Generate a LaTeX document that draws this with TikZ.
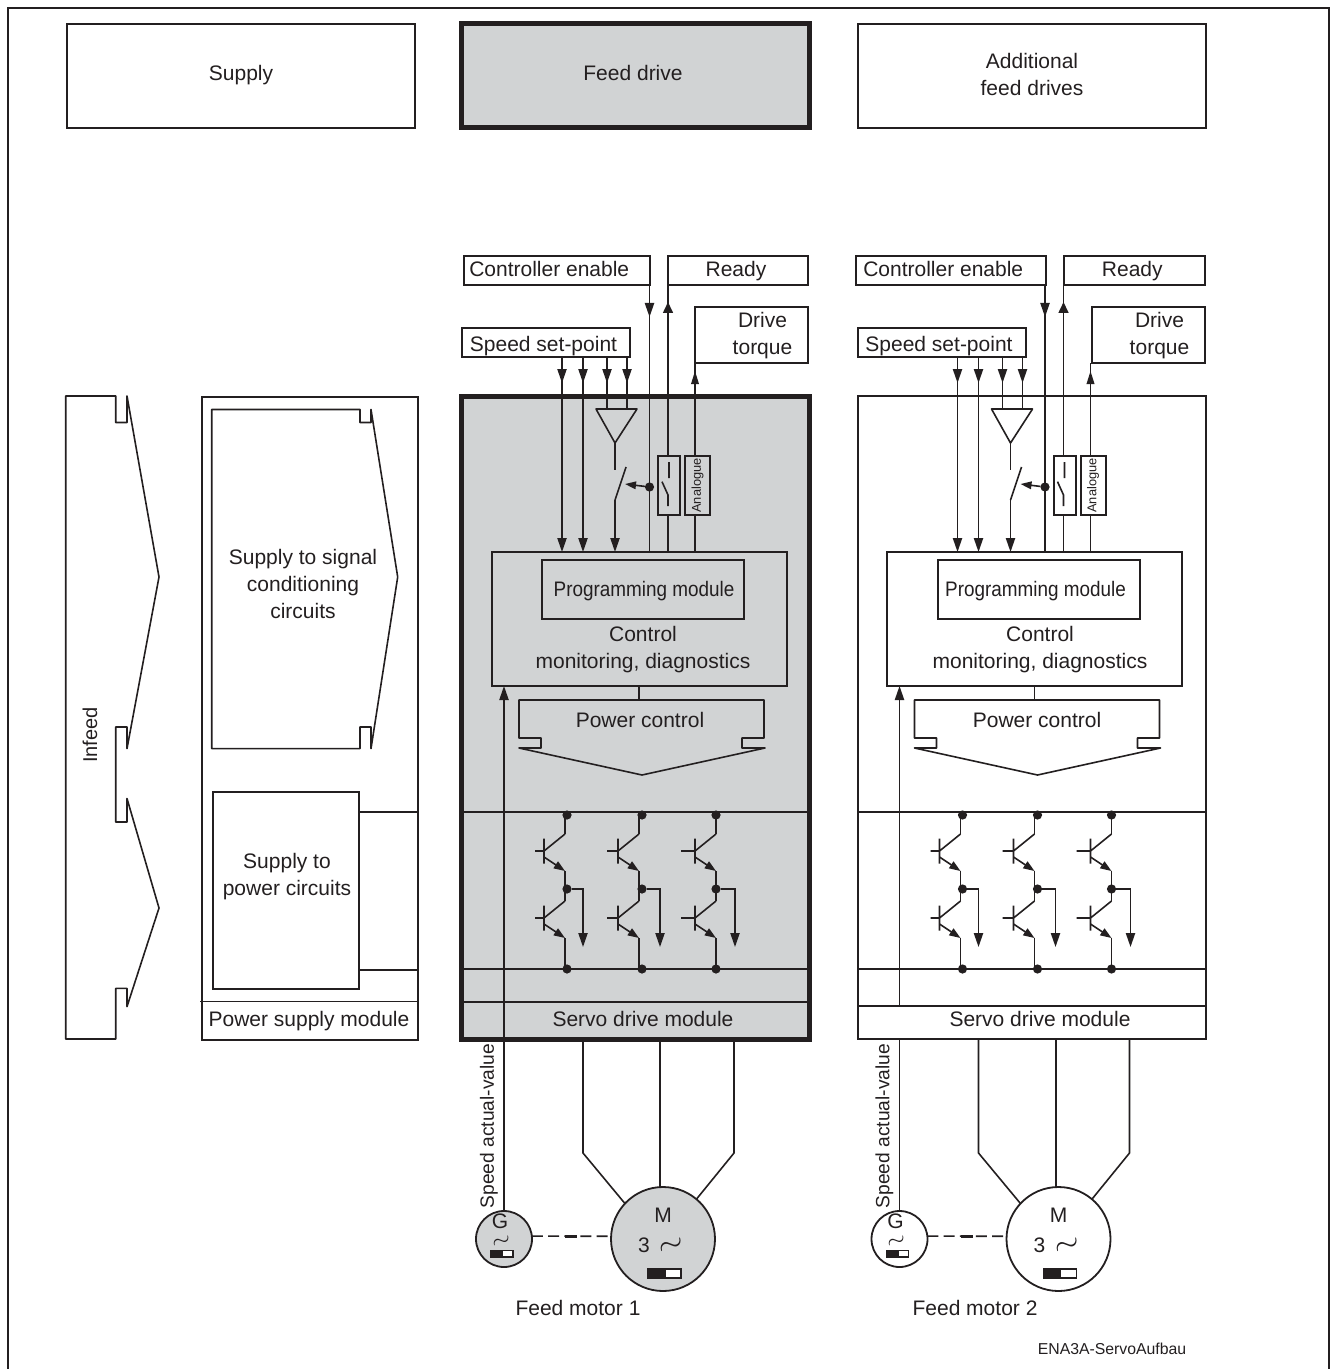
\documentclass[tikz,border=0pt]{standalone}
\usepackage{fontspec}
\setmainfont{Liberation Sans}
\usetikzlibrary{arrows.meta,fit,calc}
\definecolor{ink}{HTML}{231F20}
\definecolor{drivegray}{HTML}{D1D3D4}
\tikzset{
  box/.style={draw,line width=1pt,inner sep=0pt,outer sep=0pt},
  wire/.style={line width=.8pt},
  thin wire/.style={line width=.6pt},
  dot/.style={circle,fill=ink,minimum size=4.6pt,inner sep=0pt,outer sep=0pt},
  machine/.style={circle,draw,line width=.9pt,inner sep=0pt,outer sep=0pt},
  smalltip/.style={>={Triangle[length=5.6pt,width=4pt]}},
  waveform/.style={inner sep=0pt,rotate=18},
  pics/igbt/.style={code={
    \draw[wire] (0,-17) -- (-21,0) (-21,-12.5) -- (-21,12.5) (#1,0) -- (-21,0);
    \draw[wire,->,smalltip] (-21,6) -- (0,20);
  }}
}
\begin{document}
\begin{tikzpicture}[x=.5pt,y=-.5pt,color=ink,>={Triangle[length=7pt,width=4.6pt]},
    every node/.append style={font=\fontsize{10.5}{13.5}\selectfont}]
  \useasboundingbox (0,0) rectangle (1334,1369);

  \draw[line width=1.1pt] (8,1369) -- (8,8) -- (1329,8) -- (1329,1369);

  \node[box,fit={(67,24) (415,128)},label={[yshift=.5pt]center:Supply}] (supply) {};
  \node[box,line width=2.5pt,fill=drivegray,fit={(461,24) (809,128)},label={[xshift=-1pt,yshift=1.5pt]center:Feed drive}] (feed) {};
  \node[box,fit={(858,24) (1206,128)},label={[yshift=.75pt,align=center]center:Additional\\feed drives}] (more) {};

  % infeed
  \draw[wire,line join=round] (65.7,396) -- (115.7,396) -- (115.7,422.5) -- (127,422.5) -- (127,396)
    -- (159,577) -- (127,748.6) -- (127,727) -- (115.7,727) -- (115.7,822) -- (127,822)
    -- (127,798.5) -- (159,908) -- (127,1006.6) -- (127,988.4) -- (115.7,988.4)
    -- (115.7,1039) -- (65.7,1039) -- cycle;
  \node[rotate=90,font=\fontsize{10}{12}\selectfont] (infeed) at (90,735) {Infeed};

  % power supply module
  \node[box,fit={(202,397) (417.7,1040)}] (psm) {};
  \coordinate (psl) at (200,1001.4);
  \draw[wire] (psl) -- (psl -| psm.east);
  \node (psmtxt) at (309,1021) {Power supply module};
  \draw[wire,line join=round] (211.7,409.5) -- (360,409.5) -- (360,422.5) -- (371,422.5) -- (371,409.5)
    -- (397.7,577) -- (371,748.6) -- (371,727) -- (360,727) -- (360,748.6) -- (211.7,748.6) -- cycle;
  \node[align=center] (sig) at (303,584) {Supply to signal\\conditioning\\circuits};
  \node[box,fit={(212.7,792) (359,989)}] (pow) {};
  \node[align=center] (powtxt) at (287,877) {Supply to\\power circuits};
  \draw[wire] (pow.east |- 0,812) -- (psm.east |- 0,812);
  \draw[wire] (pow.east |- 0,970) -- (psm.east |- 0,970);

  % the two drives
  \foreach \m/\dx/\mx/\ce/\pg/\bg/\fw/\by/\bandbg in {1/0/0/463.5/0.5pt/drivegray/2.5pt/1002/none,2/395.5/397/856/-1.5pt/white/1pt/1006/white} {
    \node[box,line width=\fw,fill=\bg,fit={(\mx+461,396) (\mx+809,1039)}] (md\m) {};
    \node[box,fit={(\dx+491.7,552) (\dx+786.7,686)}] (ctl\m) {};
    \node[box,fit={(\dx+542,560) (\dx+744,619)},label={[xshift=\pg,yshift=-1pt]center:\scalebox{.9}[1]{Programming module}}] (prg\m) {};
    \node[align=center] (ctltxt\m) at (\mx+643,650) {Control\\monitoring, diagnostics};

    \node[box,fit={(\ce,256) (\dx+650,285)},label={[xshift=-3.75pt,yshift=1pt]center:Controller enable}] (ce\m) {};
    \node[box,fit={(\dx+668,256) (\mx+808,285)},label={[xshift=-1pt,yshift=-.5pt]center:Ready}] (rd\m) {};
    \node[box,fit={(\mx+695,307) (\mx+808,363)},label={[xshift=5.5pt,yshift=-.5pt,align=center]center:Drive\\torque}] (dt\m) {};
    \node[box,fit={(\dx+462,328) (\dx+630,357)},label={[xshift=-1.25pt,yshift=-2pt]center:Speed set-point}] (sp\m) {};

    % set-point lines
    \foreach \s/\sx in {a/562,b/583,c/607,d/627} {
      \coordinate (s\m\s) at (\dx+\sx,357);
      \draw[wire,->] (s\m\s) -- (s\m\s |- 0,383);
    }
    \draw[wire,->] (s\m a) -- (s\m a |- ctl\m.north);
    \draw[wire,->] (s\m b) -- (s\m b |- ctl\m.north);
    \draw[wire] (s\m c) -- (s\m c |- 0,409);
    \draw[wire] (s\m d) -- (s\m d |- 0,409);

    % amplifier and switch
    \coordinate (amp\m) at (\dx+615,443);
    \coordinate (sw\m) at (\dx+615,500);
    \draw[wire,line join=round] (\dx+596,409) -- (\dx+637,409) -- (amp\m) -- cycle;
    \draw[wire] (amp\m) -- (amp\m |- 0,470);
    \draw[wire] (sw\m) -- (\dx+626,467);
    \draw[wire,->] (sw\m) -- (sw\m |- ctl\m.north);

    % enable, ready, torque
    \coordinate (ew\m) at (\dx+649.5,285);
    \coordinate (rw\m) at (\dx+668,285);
    \coordinate (aw\m) at (\dx+695,363);
    \draw[wire] (ew\m) -- (ew\m |- ctl\m.north);
    \draw[wire,->] (ew\m) -- (ew\m |- 0,317);
    \draw[wire] (rw\m |- ctl\m.north) -- (rw\m);
    \draw[wire,->,>={Triangle[length=5.5pt,width=5pt]}] (rw\m |- 0,330) -- (rw\m |- 0,302);
    \draw[wire] (aw\m |- ctl\m.north) -- (aw\m);
    \draw[wire,->,>={Triangle[length=6.5pt,width=3.8pt]}] (aw\m |- 0,400) -- (aw\m |- 0,371);
    \node[dot] (en\m) at (ew\m |- 0,487) {};
    \draw[wire,->,>={Triangle[length=5.5pt,width=3.8pt]}] (en\m) -- (\dx+625,484);
    \node[box,fill=\bg,fit={(\dx+658.3,456) (\dx+680,515)}] (rel\m) {};
    \node[box,fill=\bg,fit={(\dx+685,456) (\dx+710,515)},label={[rotate=90,font=\fontsize{6.4}{8}\selectfont]center:Analogue}] (ana\m) {};
    \draw[wire] (\dx+669,462) -- (\dx+669,478) (\dx+662,481.7) -- (\dx+668,495) -- (\dx+668,506);

    % power control
    \coordinate (pt\m) at (\dx+639,700);
    \draw[wire] (ctl\m.south -| pt\m) -- (pt\m);
    \draw[wire,line join=round] (\dx+519,748) -- (\dx+541,748) -- (\dx+541,738) -- (\dx+519,738) -- (\dx+519,700)
      -- (\dx+764,700) -- (\dx+764,738) -- (\dx+742,738) -- (\dx+742,748) -- (\dx+765,748)
      -- (\dx+642,775) -- cycle;
    \node (pc\m) at (\mx+640,720) {Power control};

    % bridge
    \draw[wire] (md\m.west |- 0,812) -- (md\m.east |- 0,812);
    \draw[wire] (md\m.west |- 0,969) -- (md\m.east |- 0,969);
    \foreach \k/\cx/\dtx/\ox/\lx in {a/565/567/583/-30,b/639/642/660/-32,c/716/716/735/-35} {
      \node[dot] (top\m\k) at (\dx+\dtx,815) {};
      \node[dot] (mid\m\k) at (\dx+\dtx,889) {};
      \node[dot] (bot\m\k) at (\dx+\dtx,969) {};
      \pic at (\dx+\cx,851) {igbt=\lx};
      \pic at (\dx+\cx,918) {igbt=\lx};
      \draw[wire] (\dx+\cx,815) -- (\dx+\cx,834) (\dx+\cx,871) -- (\dx+\cx,901) (\dx+\cx,938) -- (\dx+\cx,969);
      \draw[wire,->] (mid\m\k) -| (\dx+\ox,947);
    }

    % motors
    \node[machine,fill=\bg,minimum size=56*.5pt] (gen\m) at (\dx+504,1239) {};
    \node[machine,fill=\bg,minimum size=104*.5pt] (mot\m) at (\dx+663,1239) {};
    \draw[wire,->] (gen\m.north) -- (gen\m.north |- ctl\m.south);
    \coordinate (ml\m) at (\dx+583,1153);
    \coordinate (mr\m) at (\dx+734,1153);
    \draw[wire] (ml\m |- md\m.south) -- (ml\m) -- (mot\m.137);
    \draw[wire] (mot\m.93) -- (mot\m.93 |- md\m.south);
    \draw[wire] (mr\m |- md\m.south) -- (mr\m) -- (mot\m.50);
    \draw[wire,dash pattern=on 5.5pt off 2.6pt] (gen\m.6) -- (mot\m.177);
    \draw[line width=1.5pt] ($(gen\m.6)!.5!(mot\m.177)$) +(-6,0) -- +(6,0);
    \node[inner sep=0pt] (gl\m) at (\dx+500,1221) {G};
    \node[waveform,scale=1.1] (gs\m) at (\dx+502,1242) {$\sim$};
    \node[inner sep=0pt] (mt\m) at (\dx+663,1215) {M};
    \node[inner sep=0pt] (mn\m) at (\dx+644,1245) {3};
    \node[waveform,scale=1.5] (ms\m) at (\dx+672,1247) {$\sim$};
    \draw[thin wire,fill=ink] (\dx+491,1250.7) rectangle (\dx+502.7,1257);
    \draw[thin wire,fill=white] (\dx+502.7,1250.7) rectangle (\dx+513,1257);
    \draw[thin wire,fill=ink] (\dx+648,1269) rectangle (\dx+665,1278);
    \draw[thin wire,fill=white] (\dx+665,1269) rectangle (\dx+681,1278);
    \node (fm\m) at (\mx+578,1308) {Feed motor \m};
    \node[rotate=90,font=\fontsize{9.6}{12}\selectfont] (sav\m) at (\dx+489,1126) {Speed actual-value};

    % module strip
    \node[box,line width=.9pt,fill=\bandbg,fit={(\mx+461,\by) (\mx+809,1039)}] (band\m) {};
    \node[box,draw=none] (sm\m) at (\mx+643,1019) {Servo drive module};
  }

  \node[font=\fontsize{7.9}{10}\selectfont] (ref) at (1112,1349) {ENA3A-ServoAufbau};
\end{tikzpicture}
\end{document}
